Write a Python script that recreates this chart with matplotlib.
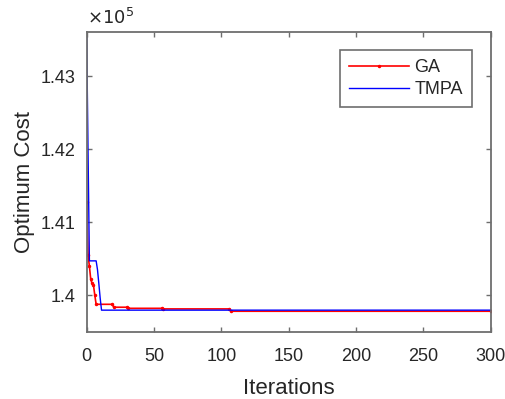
import matplotlib
matplotlib.use("Agg")
import matplotlib.pyplot as plt
from matplotlib.ticker import FuncFormatter

# GA convergence (iteration, best cost)
ga_iter = [0, 1, 2, 3, 4, 5, 6, 7, 19, 20, 30, 31, 56, 57, 106, 107, 300]
ga_cost = [141278, 140548, 140397, 140215, 140160, 140140, 140000, 139875,
           139875, 139835, 139835, 139820, 139820, 139812, 139812, 139780, 139780]

# TMPA convergence (iteration, best cost)
tmpa_iter = [0, 1, 2, 7, 8, 9, 10, 11, 300]
tmpa_cost = [143525, 141950, 140470, 140470, 140350, 140160, 139960, 139795, 139795]

x_ticks = [0, 50, 100, 150, 200, 250, 300]
y_ticks = [140000, 141000, 142000, 143000]

plt.rcParams['font.family'] = ['Liberation Sans', 'DejaVu Sans']
txt = '#262626'
axc = '#6e6e6e'

fig = plt.figure(figsize=(5.05, 3.99), dpi=100)
ax = fig.add_axes([0.1717, 0.1687, 0.800, 0.7503])

ax.plot(ga_iter, ga_cost, color='#ff0000', lw=1.2, marker='.', markersize=3,
        label='GA')
ax.plot(tmpa_iter, tmpa_cost, color='#0000ff', lw=1.0, label='TMPA')

ax.set_xlim(0, 300)
ax.set_ylim(139500, 143600)
ax.set_xticks(x_ticks)
ax.set_yticks(y_ticks)
ax.yaxis.set_major_formatter(FuncFormatter(lambda v, p: '%g' % (v / 1e5)))

for s in ax.spines.values():
    s.set_color(axc)
    s.set_linewidth(1.3)
ax.tick_params(direction='in', length=3.5, width=1.0, color=axc,
               labelcolor=txt, labelsize=13, top=True, right=True)
ax.tick_params(axis='x', pad=12)
ax.tick_params(axis='y', pad=8)

ax.set_xlabel('Iterations', fontsize=16, color=txt, labelpad=9)
ax.set_ylabel('Optimum Cost', fontsize=16, color=txt, labelpad=4)
ax.text(0.0, 1.015, r'$\times10^5$', transform=ax.transAxes, fontsize=13,
        color=txt, ha='left', va='bottom')

leg = ax.legend(loc='upper right', bbox_to_anchor=(0.953, 0.94), fontsize=13,
                fancybox=False, framealpha=1, edgecolor=axc, handlelength=3.3,
                handletextpad=0.3, borderpad=0.5, labelspacing=0.25,
                borderaxespad=0)
leg.get_frame().set_linewidth(1.2)
for t in leg.get_texts():
    t.set_color(txt)

fig.savefig('out.png', dpi=100)
